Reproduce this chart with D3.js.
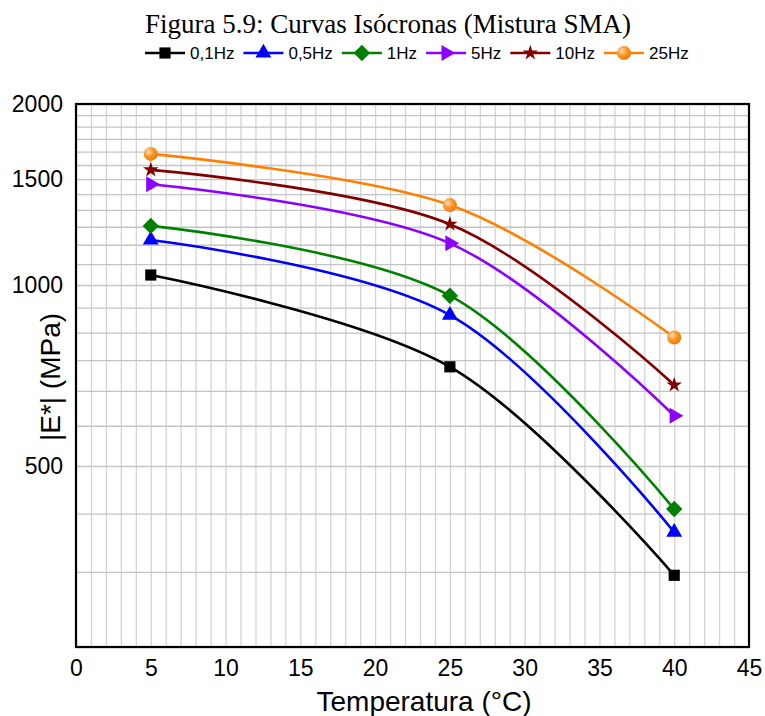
<!DOCTYPE html>
<html>
<head>
<meta charset="utf-8">
<script src="https://cdn.jsdelivr.net/npm/d3@7"></script>
<style>
  body { margin: 0; background: #ffffff; }
  .tick text { font-family: Arial, "Liberation Sans", sans-serif; fill: #000; }
</style>
</head>
<body>
<div id="chart"></div>
<script>
// valores (|E*| em MPa)
var temperaturas = [5, 25, 40];
var frequencias = ["0,1Hz", "0,5Hz", "1Hz", "5Hz", "10Hz", "25Hz"];
var e_01Hz = [1039, 731, 329];
var e_05Hz = [1188, 891, 388];
var e_1Hz = [1254, 960, 424];
var e_5Hz = [1471, 1173, 606];
var e_10Hz = [1554, 1262, 682];
var e_25Hz = [1652, 1358, 818];
var xTickLabels = [0, 5, 10, 15, 20, 25, 30, 35, 40, 45];
var yTickLabels = [500, 1000, 1500, 2000];

var series = [e_01Hz, e_05Hz, e_1Hz, e_5Hz, e_10Hz, e_25Hz];
var cores = ["#000000", "#0000ff", "#008000", "#8b00ff", "#800000", "#ff8000"];

var W = 765, H = 716,
    plotL = 76, plotR = 749, plotT = 104, plotB = 647;

var svg = d3.select("#chart")
    .append("svg")
    .attr("width", W)
    .attr("height", H)
    .attr("viewBox", "0 0 " + W + " " + H);

var defs = svg.append("defs");
var grad = defs.append("radialGradient")
    .attr("id", "bola")
    .attr("cx", "0.35").attr("cy", "0.35").attr("r", "0.7");
grad.append("stop").attr("offset", "0%").attr("stop-color", "#ffe2c0");
grad.append("stop").attr("offset", "45%").attr("stop-color", "#ff9a2e");
grad.append("stop").attr("offset", "100%").attr("stop-color", "#f07800");

var x = d3.scaleLinear().domain([0, 45]).range([plotL, plotR]);
var y = d3.scaleLog().domain([250, 2000]).range([plotB, plotT]);

// grade
var xGrid = d3.range(0, 46);
var yGrid = d3.range(0, 22).map(function(k){ return 250 + k * 1000 / 12; });

svg.append("g")
    .attr("transform", "translate(0," + plotB + ")")
    .call(d3.axisBottom(x).tickValues(xGrid).tickSize(-(plotB - plotT)).tickFormat(""))
    .call(function(g){
        g.select(".domain").remove();
        g.selectAll("line").attr("stroke", "#d4d4d4").attr("stroke-width", 1.3);
    });

svg.append("g")
    .attr("transform", "translate(" + plotL + ",0)")
    .call(d3.axisLeft(y).tickValues(yGrid).tickSize(-(plotR - plotL)).tickFormat(""))
    .call(function(g){
        g.select(".domain").remove();
        g.selectAll("line").attr("stroke", "#c4c4c4").attr("stroke-width", 1.3);
    });

// eixos
svg.append("g")
    .attr("transform", "translate(0," + plotB + ")")
    .call(d3.axisBottom(x).tickValues(xTickLabels).tickSize(0).tickPadding(13))
    .call(function(g){
        g.select(".domain").remove();
        g.selectAll("text").style("font-size", "23px");
    });

svg.append("g")
    .attr("transform", "translate(" + plotL + ",0)")
    .call(d3.axisLeft(y).tickValues(yTickLabels).tickSize(0).tickPadding(13).tickFormat(d3.format("d")))
    .call(function(g){
        g.select(".domain").remove();
        g.selectAll("text").style("font-size", "23px");
    });

svg.append("rect")
    .attr("x", plotL).attr("y", plotT)
    .attr("width", plotR - plotL).attr("height", plotB - plotT)
    .attr("fill", "none")
    .attr("stroke", "#000")
    .attr("stroke-width", 2.2);

// simbolos
function marcador(sel, i){
    if(i === 5){
        sel.append("circle").attr("r", 7).attr("fill", "url(#bola)");
        return;
    }
    var tipos = [d3.symbolSquare, d3.symbolTriangle, d3.symbolSquare, d3.symbolTriangle, d3.symbolStar];
    var tamanhos = [125, 110, 135, 110, 75];
    var rot = [0, 0, 45, 90, 0];
    sel.append("path")
        .attr("d", d3.symbol().type(tipos[i]).size(tamanhos[i]))
        .attr("transform", "rotate(" + rot[i] + ")")
        .attr("fill", cores[i]);
}

var line = d3.line()
    .x(function(d, i){ return x(temperaturas[i]); })
    .y(function(d){ return y(d); })
    .curve(d3.curveCardinal.tension(0));

series.forEach(function(s, i){
    svg.append("path")
        .attr("d", line(s))
        .attr("fill", "none")
        .attr("stroke", cores[i])
        .attr("stroke-width", 2.6);

    s.forEach(function(v, j){
        var g = svg.append("g")
            .attr("transform", "translate(" + x(temperaturas[j]) + "," + y(v) + ")");
        marcador(g, i);
    });
});

// titulo
svg.append("text")
    .attr("x", 388).attr("y", 33)
    .attr("text-anchor", "middle")
    .style("font-family", "'Liberation Serif', 'Times New Roman', serif")
    .style("font-size", "27px")
    .text("Figura 5.9: Curvas Isócronas (Mistura SMA)");

// legenda
var lx = 145, ly = 53;
frequencias.forEach(function(f, i){
    var g = svg.append("g").attr("transform", "translate(" + lx + "," + ly + ")");
    g.append("line")
        .attr("x1", 0).attr("x2", 40)
        .attr("stroke", cores[i]).attr("stroke-width", 2.6);
    var m = g.append("g").attr("transform", "translate(20,0)");
    marcador(m, i);
    var t = g.append("text")
        .attr("x", 45).attr("y", 6)
        .style("font-family", "Arial, 'Liberation Sans', sans-serif")
        .style("font-size", "17px")
        .text(f);
    lx += 45 + t.node().getComputedTextLength() + 9;
});

// rotulos dos eixos
svg.append("text")
    .attr("x", 424).attr("y", 711)
    .attr("text-anchor", "middle")
    .style("font-family", "Arial, 'Liberation Sans', sans-serif")
    .style("font-size", "28px")
    .text("Temperatura (°C)");

svg.append("text")
    .attr("transform", "translate(60,377) rotate(-90)")
    .attr("text-anchor", "middle")
    .style("font-family", "Arial, 'Liberation Sans', sans-serif")
    .style("font-size", "28px")
    .text("|E*| (MPa)");
</script>
</body>
</html>
